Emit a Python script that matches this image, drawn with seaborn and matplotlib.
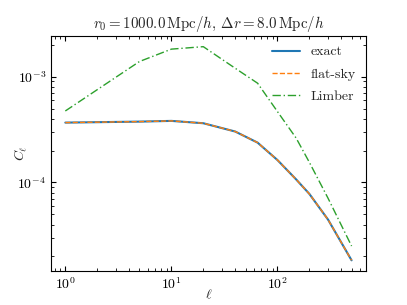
import numpy as np
import pandas as pd
import matplotlib
matplotlib.use("Agg")
import matplotlib.pyplot as plt
import seaborn as sns

# multipoles and angular power spectra
ell = [1, 5, 10, 20, 40, 65, 100, 150, 200, 300, 500]
cl_exact = [3.68e-4, 3.76e-4, 3.82e-4, 3.63e-4, 3.03e-4, 2.38e-4,
            1.63e-4, 1.07e-4, 7.8e-5, 4.46e-5, 1.84e-5]
cl_flat = [3.68e-4, 3.76e-4, 3.82e-4, 3.63e-4, 3.03e-4, 2.38e-4,
           1.63e-4, 1.07e-4, 7.8e-5, 4.46e-5, 1.84e-5]
cl_limber = [4.74e-4, 1.39e-3, 1.82e-3, 1.92e-3, 1.20e-3, 8.67e-4,
             4.68e-4, 2.63e-4, 1.55e-4, 7.1e-5, 2.51e-5]

sns.set_style("ticks")
plt.rcParams["font.family"] = "serif"
plt.rcParams["font.serif"] = ["cmr10", "DejaVu Serif"]
plt.rcParams["mathtext.fontset"] = "cm"
plt.rcParams["axes.formatter.use_mathtext"] = True
plt.rcParams["axes.edgecolor"] = "black"
plt.rcParams["xtick.color"] = "black"
plt.rcParams["ytick.color"] = "black"

df = pd.DataFrame({"ell": ell, "exact": cl_exact,
                   "flat": cl_flat, "limber": cl_limber})

fig = plt.figure(figsize=(4.07, 3.05), dpi=100)
ax = fig.add_axes([0.1253, 0.1115, 0.7737, 0.7705])

pal = sns.color_palette("tab10")
sns.lineplot(data=df, x="ell", y="exact", ax=ax, color=pal[0], lw=1.5,
             label="exact")
sns.lineplot(data=df, x="ell", y="flat", ax=ax, color=pal[1], lw=1.0,
             ls="--", label="flat-sky")
sns.lineplot(data=df, x="ell", y="limber", ax=ax, color=pal[2], lw=1.0,
             ls=(0, (6, 2, 1, 2)), label="Limber")

ax.set_xscale("log")
ax.set_yscale("log")
ax.set_xlabel(r"$\ell$", fontsize=10)
ax.set_ylabel(r"$C_\ell$", fontsize=10)
ax.xaxis.set_label_coords(0.5, -0.07)
ax.yaxis.set_label_coords(-0.07, 0.5)
ax.set_title(r"$r_0 = 1000.0\,\mathrm{Mpc}/h$, $\Delta r = 8.0\,\mathrm{Mpc}/h$",
             fontsize=10.8)
ax.tick_params(which="both", direction="in", top=True, right=True, labelsize=10)
ax.legend(loc="upper right", frameon=False, fontsize=10, handlelength=2.0,
          labelspacing=0.7, borderaxespad=0.3)

fig.savefig("out.png", dpi=100)
